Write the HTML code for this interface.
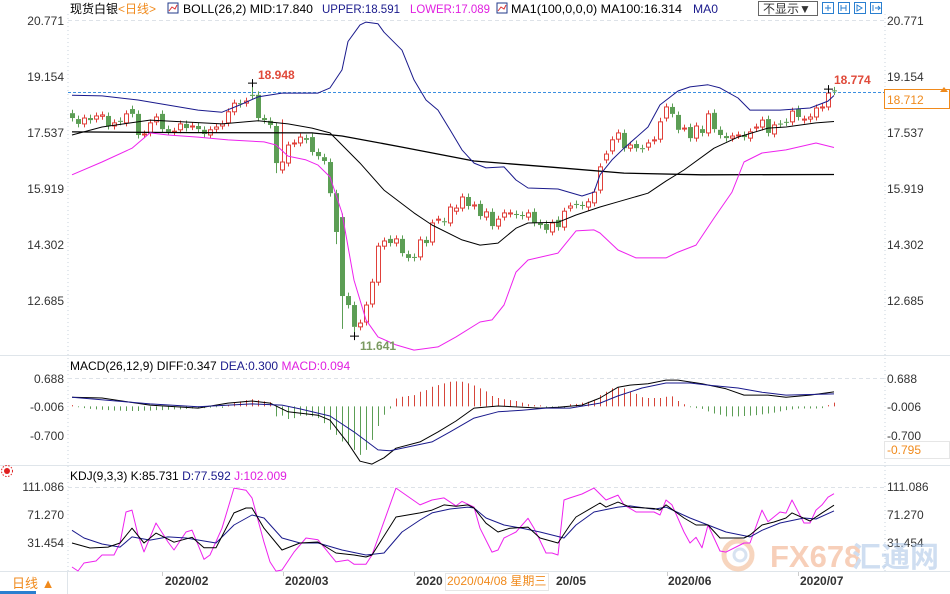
<!DOCTYPE html>
<html><head><meta charset="utf-8">
<style>
html,body{margin:0;padding:0;background:#fff;}
svg{display:block;font-family:"Liberation Sans","Noto Sans CJK SC",sans-serif;}
</style></head>
<body>
<svg id="chart" width="950" height="594" viewBox="0 0 950 594" xmlns="http://www.w3.org/2000/svg">
  <rect x="0" y="0" width="950" height="594" fill="#fff"/>
  <line x1="68" y1="14" x2="68" y2="572" stroke="#c9d3de" stroke-dasharray="1,3"/>
  <line x1="885" y1="14" x2="885" y2="572" stroke="#c9d3de" stroke-dasharray="1,3"/>
  <line x1="0" y1="355.5" x2="950" y2="355.5" stroke="#dfe5ea"/>
  <line x1="0" y1="465.5" x2="950" y2="465.5" stroke="#dfe5ea"/>
  <line x1="0" y1="571.5" x2="950" y2="571.5" stroke="#dfe5ea"/>
  <line x1="68" y1="20.5" x2="885" y2="20.5" stroke="#dde2e8" stroke-dasharray="4,3"/>
  <line x1="68" y1="378.5" x2="885" y2="378.5" stroke="#dde2e8" stroke-dasharray="4,3"/>
  <line x1="68" y1="487.5" x2="885" y2="487.5" stroke="#dde2e8" stroke-dasharray="4,3"/>

  <text x="70" y="13" font-size="12" fill="#000">现货白银<tspan fill="#f08a1c">&lt;日线&gt;</tspan></text>
  <rect x="168" y="3" width="10" height="10" fill="#fff" stroke="#223a8a"/>
  <polyline points="169,11 172,7 175,9 177,5" fill="none" stroke="#d33"/>
  <text x="183" y="13" font-size="12" textLength="130" lengthAdjust="spacingAndGlyphs" fill="#000">BOLL(26,2) MID:17.840</text>
  <text x="322" y="13" font-size="12" textLength="78" lengthAdjust="spacingAndGlyphs" fill="#1a1a8c">UPPER:18.591</text>
  <text x="410" y="13" font-size="12" textLength="80" lengthAdjust="spacingAndGlyphs" fill="#e020e0">LOWER:17.089</text>
  <rect x="497" y="3" width="10" height="10" fill="#fff" stroke="#223a8a"/>
  <polyline points="498,11 501,7 504,9 506,5" fill="none" stroke="#d33"/>
  <text x="511" y="13" font-size="12" textLength="171" lengthAdjust="spacingAndGlyphs" fill="#000">MA1(100,0,0,0) MA100:16.314</text>
  <text x="693" y="13" font-size="12" textLength="25" lengthAdjust="spacingAndGlyphs" fill="#1a1a8c">MA0</text>
  <rect x="758.5" y="1.5" width="59" height="14" fill="#fff" stroke="#666"/>
  <text x="763" y="13" font-size="12" fill="#333">不显示▼</text>
  <g>
    <rect x="822.5" y="2.5" width="11" height="11" fill="#fff" stroke="#2a7fd0"/>
    <rect x="838.5" y="2.5" width="11" height="11" fill="#fff" stroke="#2a7fd0"/>
    <rect x="854.5" y="2.5" width="11" height="11" fill="#fff" stroke="#2a7fd0"/>
    <rect x="870.5" y="2.5" width="11" height="11" fill="#fff" stroke="#2a7fd0"/>
    <path d="M825 8h6M828 5v6M841 5v6M846 5v6M841 8h5M857 5v6l5-3z M873 5v6M875 8h5l-2-2M878 10l2-2" stroke="#2a7fd0" fill="none"/>
  </g>

  <g font-size="12" fill="#333">
    <text x="887" y="25">20.771</text>
    <text x="887" y="81">19.154</text>
    <text x="887" y="137">17.537</text>
    <text x="887" y="193">15.919</text>
    <text x="887" y="249">14.302</text>
    <text x="887" y="305">12.685</text>
  </g>
  <g font-size="12" fill="#333">
    <text x="64" y="25" text-anchor="end">20.771</text>
    <text x="64" y="81" text-anchor="end">19.154</text>
    <text x="64" y="137" text-anchor="end">17.537</text>
    <text x="64" y="193" text-anchor="end">15.919</text>
    <text x="64" y="249" text-anchor="end">14.302</text>
    <text x="64" y="305" text-anchor="end">12.685</text>
  </g>
  <line x1="68" y1="92.5" x2="885" y2="92.5" stroke="#3b8fe0" stroke-dasharray="3,2"/>
  <rect x="884.5" y="89.5" width="65" height="19" fill="#fff" stroke="#f08a1c"/>
  <text x="887" y="104" font-size="12" fill="#f08a1c">18.712</text>
  <path d="M940 92l4-5 4 5z" fill="#f08a1c"/>

  <text x="70" y="370" font-size="12" fill="#000">MACD(26,12,9) DIFF:0.347 <tspan fill="#1a1a8c">DEA:0.300</tspan> <tspan fill="#e020e0">MACD:0.094</tspan></text>
  <g font-size="12" fill="#333">
    <text x="887" y="383">0.688</text>
    <text x="887" y="411">-0.006</text>
    <text x="887" y="440">-0.700</text>
    <text x="64" y="383" text-anchor="end">0.688</text>
    <text x="64" y="411" text-anchor="end">-0.006</text>
    <text x="64" y="440" text-anchor="end">-0.700</text>
  </g>
  <rect x="884.5" y="441.5" width="65" height="17" fill="#fff" stroke="#e6e6e6"/>
  <text x="887" y="454" font-size="12" fill="#f08a1c">-0.795</text>

  <g>
    <circle cx="7" cy="471" r="3" fill="#e02020"/>
    <circle cx="7" cy="471" r="5.5" fill="none" stroke="#e02020" stroke-dasharray="1.5,1.5"/>
  </g>
  <text x="70" y="480" font-size="12" fill="#000">KDJ(9,3,3) K:85.731 <tspan fill="#1a1a8c">D:77.592</tspan> <tspan fill="#e020e0">J:102.009</tspan></text>
  <g font-size="12" fill="#333">
    <text x="887" y="491">111.086</text>
    <text x="887" y="519">71.270</text>
    <text x="887" y="547">31.454</text>
    <text x="64" y="491" text-anchor="end">111.086</text>
    <text x="64" y="519" text-anchor="end">71.270</text>
    <text x="64" y="547" text-anchor="end">31.454</text>
  </g>

  <g opacity="0.55">
    <circle cx="738" cy="555" r="14" fill="none" stroke="#f2b48a" stroke-width="5"/>
    <circle cx="740" cy="555" r="6" fill="none" stroke="#b9cde6" stroke-width="3"/>
    <text x="770" y="567" font-size="31" font-weight="bold" fill="#f2a880">FX678</text>
    <text x="852" y="567" font-size="29" font-weight="bold" fill="#a9c4e6">汇通网</text>
  </g>

  <rect x="0" y="572" width="67" height="22" fill="#fff"/>
  <line x1="67.5" y1="572" x2="67.5" y2="594" stroke="#dfe5ea"/>
  <text x="12" y="588" font-size="13" fill="#f08a1c">日线 ▲</text>
  <rect x="0" y="591" width="36" height="3" fill="#2a7fd0"/>
  <g font-size="12" font-weight="bold" fill="#333">
    <text x="165" y="585">2020/02</text>
    <text x="285" y="585">2020/03</text>
    <text x="416" y="585">2020</text>
    <text x="556" y="585">20/05</text>
    <text x="668" y="585">2020/06</text>
    <text x="800" y="585">2020/07</text>
  </g>
  <g stroke="#ccc">
    <line x1="162.5" y1="572" x2="162.5" y2="576"/><line x1="283.5" y1="572" x2="283.5" y2="576"/>
    <line x1="414.5" y1="572" x2="414.5" y2="576"/><line x1="667.5" y1="572" x2="667.5" y2="576"/>
    <line x1="798.5" y1="572" x2="798.5" y2="576"/>
  </g>
  <rect x="445.5" y="573.5" width="103" height="17" fill="#fff" stroke="#e6e6e6"/>
  <text x="447" y="585" font-size="12" fill="#f08a1c">2020/04/08 星期三</text>

  <g id="plot"></g>
</svg>
<script>
const opens = [18.08,17.91,17.77,17.94,17.91,17.99,18.00,17.71,17.86,17.80,
18.20,18.06,17.46,17.51,17.83,18.06,17.62,17.53,17.60,17.77,
17.69,17.71,17.60,17.45,17.62,17.71,17.80,18.12,18.37,18.37,
18.61,18.61,17.94,17.86,17.71,16.44,16.64,17.20,17.22,17.36,
17.39,16.96,16.81,16.67,15.77,15.08,12.80,12.54,11.91,12.05,
12.57,13.20,14.24,14.45,14.33,14.45,14.01,13.93,13.93,14.42,
14.36,14.99,14.96,14.91,15.25,15.34,15.66,15.40,15.46,15.08,
15.23,14.82,15.08,15.17,15.17,15.14,15.08,15.23,14.91,14.88,
14.65,15.00,14.79,15.34,15.46,15.43,15.37,15.49,15.86,16.73,
16.99,17.33,17.51,17.07,17.19,17.07,17.10,17.28,17.33,17.94,
18.26,18.03,17.65,17.68,17.36,17.62,17.51,18.09,17.60,17.42,
17.36,17.44,17.45,17.36,17.65,17.68,17.91,17.48,17.78,17.83,
17.83,18.20,17.88,17.91,17.97,18.23,18.26,18.74];
const closes = [17.94,17.77,17.94,17.88,18.00,18.03,17.71,17.80,17.83,18.06,
18.06,17.45,17.48,17.80,17.97,17.62,17.54,17.56,17.77,17.65,
17.71,17.62,17.48,17.60,17.68,17.77,18.12,18.37,18.34,18.43,
18.58,17.94,17.88,17.74,16.64,16.67,17.16,17.22,17.39,17.31,
16.96,16.84,16.70,15.77,14.65,12.80,12.54,11.91,12.02,12.54,
13.20,14.24,14.39,14.33,14.45,14.04,13.90,13.90,14.42,14.33,
14.91,15.02,14.93,15.37,15.34,15.66,15.40,15.43,15.11,15.23,
14.82,15.02,15.20,15.20,15.14,15.11,15.20,14.91,14.85,14.71,
14.91,14.79,15.25,15.40,15.43,15.40,15.52,15.80,16.53,16.90,
17.31,17.51,17.07,17.16,17.07,17.04,17.22,17.31,17.83,18.26,
18.06,17.60,17.65,17.36,17.71,17.51,18.06,17.62,17.45,17.36,
17.42,17.45,17.39,17.54,17.68,17.88,17.51,17.74,17.76,17.81,
18.14,17.97,17.91,17.97,18.23,18.26,18.66,18.71];
const wickSize = 0.1;
const highOverrides = {30: 18.948, 126: 18.774, 35: 17.90, 98: 17.95};
const lowOverrides = {47: 11.641, 45: 11.85, 44: 14.3, 34: 16.35};
const bollUpper = [[0,18.60],[5,18.58],[11,18.46],[21,18.17],[25,18.11],[28,18.32],[31,18.55],[35,18.66],[41,18.66],[43,18.81],[45,19.33],[46,20.15],[48,20.63],[49,20.71],[51,20.66],[52,20.42],[55,19.90],[57,19.04],[59,18.46],[61,18.17],[63,17.60],[65,17.02],[67,16.64],[69,16.50],[72,16.53],[74,16.15],[76,15.92],[81,15.89],[85,15.69],[87,15.80],[88,16.30],[90,16.73],[92,17.07],[96,17.68],[98,18.32],[101,18.72],[103,18.84],[106,18.90],[108,18.81],[111,18.52],[113,18.17],[118,18.17],[123,18.23],[126,18.43],[127,18.59]];
const bollMid = [[0,17.45],[5,17.68],[13,17.88],[25,17.77],[31,17.86],[36,17.77],[40,17.65],[43,17.51],[48,16.64],[52,15.86],[57,15.20],[60,14.85],[65,14.42],[68,14.27],[71,14.33],[74,14.76],[76,14.91],[81,14.93],[84,15.14],[88,15.37],[91,15.52],[96,15.77],[99,16.12],[102,16.44],[107,17.07],[111,17.39],[116,17.65],[119,17.68],[124,17.80],[127,17.84]];
const bollLower = [[0,16.30],[5,16.67],[10,17.07],[13,17.51],[16,17.45],[21,17.39],[26,17.31],[32,17.25],[34,17.16],[36,16.84],[39,16.73],[41,16.58],[43,16.24],[45,15.20],[47,13.26],[49,12.11],[51,11.62],[54,11.39],[57,11.24],[61,11.33],[64,11.62],[68,12.05],[70,12.11],[72,12.54],[74,13.49],[76,13.84],[81,14.04],[84,14.68],[87,14.71],[88,14.62],[91,14.13],[94,13.90],[99,13.90],[101,14.07],[104,14.27],[107,15.05],[110,15.80],[112,16.67],[115,16.93],[119,17.02],[124,17.22],[127,17.09]];
const ma100 = [[0,17.54],[20,17.52],[40,17.51],[45,17.42],[55,17.10],[67,16.70],[80,16.52],[92,16.35],[105,16.30],[127,16.31]];
const macdHist = [0.03,-0.02,-0.04,-0.06,-0.07,-0.08,-0.09,-0.10,-0.10,-0.11,
-0.11,-0.11,-0.10,-0.10,-0.09,-0.09,-0.08,-0.07,-0.07,-0.06,
-0.05,-0.05,-0.04,-0.03,-0.02,-0.01,0.03,0.08,0.12,0.15,
0.17,0.15,0.12,0.10,-0.24,-0.22,-0.30,-0.28,-0.22,-0.22,
-0.24,-0.28,-0.40,-0.56,-0.68,-0.84,-0.92,-1.04,-1.16,-1.04,
-0.80,-0.47,-0.20,-0.05,0.19,0.23,0.25,0.27,0.35,0.39,
0.47,0.51,0.55,0.59,0.60,0.59,0.55,0.50,0.43,0.36,
0.25,0.20,0.17,0.15,0.13,0.09,0.05,0.03,0.00,-0.01,
-0.01,-0.01,-0.01,0.05,0.06,0.09,0.11,0.16,0.27,0.35,
0.43,0.45,0.43,0.35,0.30,0.22,0.20,0.20,0.20,0.23,
0.24,0.13,0.05,-0.02,-0.04,-0.06,-0.12,-0.17,-0.20,-0.24,
-0.24,-0.24,-0.23,-0.22,-0.21,-0.19,-0.17,-0.15,-0.12,-0.09,
-0.07,-0.05,-0.05,-0.05,-0.05,-0.04,0.03,0.09];
const macdDiff = [[0,0.22],[5,0.20],[13,0.03],[21,-0.04],[26,0.08],[30,0.13],[33,0.08],[36,-0.13],[41,-0.21],[43,-0.33],[46,-0.88],[48,-1.31],[50,-1.38],[52,-1.23],[54,-1.00],[58,-0.85],[61,-0.61],[64,-0.35],[67,-0.04],[71,0.01],[78,-0.04],[81,-0.02],[85,0.03],[88,0.20],[91,0.46],[93,0.51],[96,0.54],[99,0.63],[101,0.63],[105,0.54],[109,0.42],[112,0.27],[116,0.27],[119,0.22],[123,0.27],[127,0.347]];
const macdDea = [[0,0.22],[13,0.06],[21,-0.01],[30,0.06],[35,0.03],[38,-0.06],[43,-0.23],[47,-0.61],[51,-1.04],[53,-1.06],[60,-0.85],[63,-0.61],[67,-0.28],[71,-0.13],[75,-0.09],[79,-0.04],[83,-0.04],[88,0.08],[91,0.25],[95,0.44],[99,0.56],[103,0.56],[106,0.51],[111,0.44],[115,0.34],[119,0.27],[127,0.30]];
const kdjK = [[0,31.9],[3,24.8],[6,26],[8,31.9],[10,53],[12,31.9],[14,46],[17,33],[20,40],[22,25],[24,25],[27,74.7],[29,81.7],[30,81.7],[32,53],[35,22],[38,31.9],[41,33.3],[44,17.6],[47,14.8],[49,12],[50,14.8],[54,68.8],[58,74.7],[60,78.6],[62,86],[64,84],[66,86],[67,81.7],[69,60],[71,47.5],[73,53],[76,54.5],[78,39],[81,31.9],[83,57.5],[84,68.8],[88,88.8],[89,83],[91,90],[93,83],[97,81],[98,78.6],[99,86],[102,67.4],[104,57.5],[106,57.5],[108,39],[112,39],[113,43.3],[115,57.5],[117,61.7],[119,67.4],[120,74.7],[123,63.2],[125,74.7],[127,85.7]];
const kdjD = [[0,50],[2,39],[5,30.5],[8,26],[10,40.5],[13,36],[16,40.5],[19,39],[24,31.9],[27,57.5],[30,71.7],[32,67.4],[35,39],[38,31.9],[41,31.9],[45,22],[49,14.8],[52,17.6],[55,47.5],[58,64.6],[60,74.7],[63,80.3],[66,83],[67,81.7],[69,67.4],[72,57.5],[75,53],[78,47.5],[82,39],[84,57.5],[87,76],[91,83],[93,84.6],[97,80],[99,83],[103,67.4],[106,57.5],[109,47.5],[113,40.5],[115,50],[118,60.3],[122,67.4],[124,66],[127,77.6]];
const kdjJ = [[0,-2.2],[1,-7.9],[2,3.5],[4,6.3],[5,14.8],[7,14.8],[8,31.9],[9,75.9],[10,78.6],[11,43.3],[12,19.2],[14,60.3],[16,33.3],[17,22],[19,47.5],[20,50.3],[22,8.7],[23,14.8],[25,53],[27,110],[29,107],[30,96],[32,33],[33,5],[34,-8],[35,-6.5],[37,19],[39,39],[41,36.4],[44,5],[46,7.7],[47,1.8],[49,1.8],[50,14.8],[54,110],[58,86],[60,93],[62,96],[64,84.6],[65,91],[67,83],[68,53],[70,19],[71,22],[72,39],[74,47.5],[76,67],[77,53],[79,17.6],[80,17.6],[81,14.8],[82,93],[83,96],[85,101.6],[87,110],[89,93],[91,100],[92,86],[94,76],[97,76],[98,71.7],[99,93],[100,86],[102,47.5],[103,31.9],[104,40],[105,25],[106,57.5],[108,20.5],[109,19],[112,31.9],[113,31.9],[115,78.6],[116,62],[118,76],[119,74.4],[120,93],[122,60.3],[123,60.3],[124,78.6],[125,86],[126,97],[127,102]];

const NS = 'http://www.w3.org/2000/svg';
const plot = document.getElementById('plot');
function xOf(i){ return 72 + 6*i; }
function yPrice(p){ return 20 + (20.771 - p) * 34.63; }
function yMacd(v){ return 406.4 - v * 41.8; }
function yKdj(v){ return 487.3 - (v - 111.086) * 0.7033; }
function mk(tag, attrs){ const e = document.createElementNS(NS, tag); for (const k in attrs) e.setAttribute(k, attrs[k]); plot.appendChild(e); return e; }

opens.forEach((o, i) => {
  const c = closes[i];
  const up = c >= o;
  const hi = highOverrides[i] !== undefined ? highOverrides[i] : Math.max(o, c) + wickSize;
  const lo = lowOverrides[i] !== undefined ? lowOverrides[i] : Math.min(o, c) - wickSize;
  const x = xOf(i);
  const col = up ? '#e0403a' : '#5c9e55';
  const yTop = yPrice(Math.max(o, c)), yBot = yPrice(Math.min(o, c));
  const w1 = mk('line', {x1: x+0.5, x2: x+0.5, y1: yPrice(hi), y2: yTop, stroke: col});
  
  
  const w2 = mk('line', {x1: x+0.5, x2: x+0.5, y1: yBot, y2: yPrice(lo), stroke: col});
  
  
  const h = Math.max(1, yBot - yTop);
  let body;
  if (up) body = mk('rect', {x: x-1.5, y: yTop, width: 4, height: Math.max(0.5, h), fill: '#fff', stroke: col});
  else body = mk('rect', {x: x-2, y: yTop, width: 5, height: h, fill: col});
  
  
});

function line(series, xs, ys, color, name, width){
  const pts = series.map(d => xs(d[0]).toFixed(1) + ',' + ys(d[1]).toFixed(1)).join(' ');
  const pl = mk('polyline', {points: pts, fill: 'none', stroke: color, 'stroke-width': width || 1, 'stroke-linejoin': 'round'});
  
  
}
line(ma100, xOf, yPrice, '#000', 'ma100-line', 1.3);
line(bollMid, xOf, yPrice, '#000', 'boll-mid-line', 1);
line(bollUpper, xOf, yPrice, '#1a1a8c', 'boll-upper-line', 1);
line(bollLower, xOf, yPrice, '#ee22ee', 'boll-lower-line', 1);

function addText(x, y, txt, color, name, size, weight){
  const t = mk('text', {x: x, y: y, fill: color, 'font-size': size || 12, 'font-weight': weight || 'bold'});
  t.textContent = txt;
  
  
}
const hiIdx = 30, endIdx = 126, lowIdx = 47;
function cross(x, y, name){
  const p = mk('path', {d: `M${x-4} ${y}h9M${x+0.5} ${y-4}v8`, stroke: '#000', fill: 'none'});
  
  
}
cross(xOf(hiIdx), yPrice(highOverrides[hiIdx]), 'high-marker');
cross(xOf(endIdx), yPrice(highOverrides[endIdx]), 'recent-high-marker');
cross(xOf(lowIdx), yPrice(lowOverrides[lowIdx]), 'low-marker');
addText(xOf(hiIdx)+6, yPrice(highOverrides[hiIdx]) - 4, highOverrides[hiIdx].toFixed(3), '#e04a3a', 'high-price-label');
addText(xOf(endIdx)+6, yPrice(highOverrides[endIdx]) - 5, highOverrides[endIdx].toFixed(3), '#e04a3a', 'recent-high-label');
addText(xOf(lowIdx)+6, yPrice(lowOverrides[lowIdx]) + 14, lowOverrides[lowIdx].toFixed(3), '#7a9a60', 'low-price-label');

macdHist.forEach((v, i) => {
  const x = xOf(i) + 0.5;
  const b = mk('line', {x1: x, x2: x, y1: yMacd(0), y2: yMacd(v) + (Math.abs(v) < 0.02 ? (v >= 0 ? -1 : 1) : 0), stroke: v >= 0 ? '#d6453a' : '#5c9e55'});
  
  
});
line(macdDiff, xOf, yMacd, '#000', 'macd-diff-line', 1);
line(macdDea, xOf, yMacd, '#1a1a8c', 'macd-dea-line', 1);

line(kdjJ, xOf, yKdj, '#ee22ee', 'kdj-j-line', 1);
line(kdjD, xOf, yKdj, '#1a1a8c', 'kdj-d-line', 1);
line(kdjK, xOf, yKdj, '#000', 'kdj-k-line', 1);
</script>
</body></html>
